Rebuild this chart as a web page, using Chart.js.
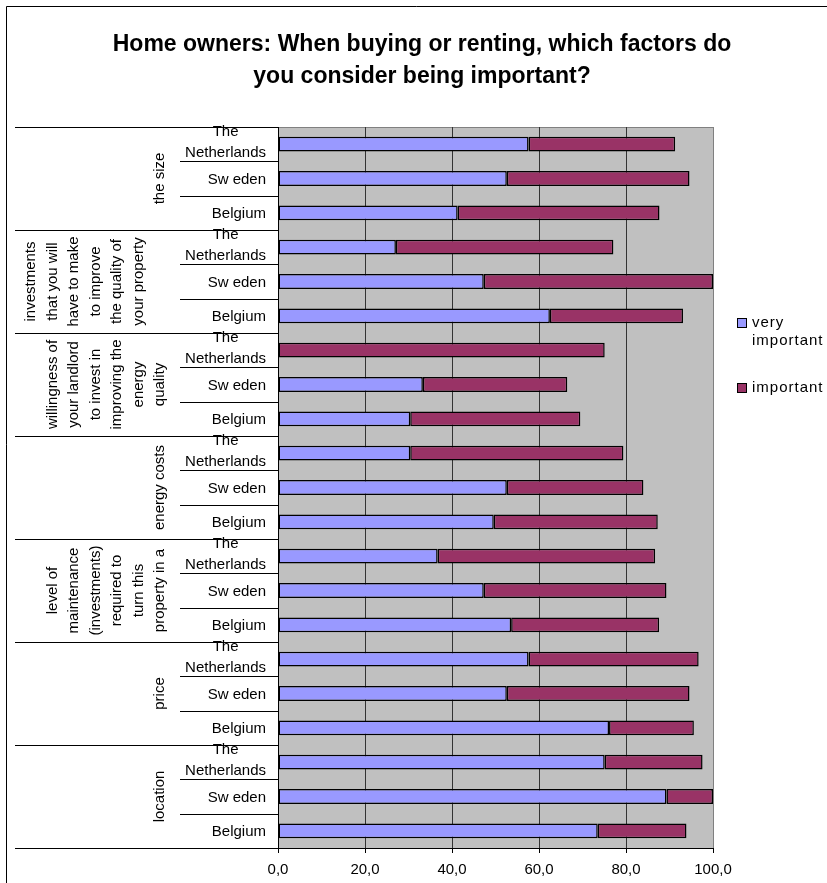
<!DOCTYPE html>
<html>
<head>
<meta charset="utf-8">
<title>Home owners: important factors</title>
<script src="https://cdn.jsdelivr.net/npm/chart.js@4/dist/chart.umd.min.js"></script>
<style>
    html, body { margin: 0; padding: 0; background: #fff; }
    canvas { display: block; }
</style>
</head>
<body>
<canvas id="factorChart" width="827" height="883"></canvas>
<script>
// Factors (top to bottom), each split in three countries
const groups = [
    ['the size'],
    ['investments', 'that you will', 'have to make', 'to improve', 'the quality of', 'your property', ''],
    ['willingness of', 'your landlord', 'to invest in', 'improving the', 'energy', 'quality'],
    ['energy costs'],
    ['level of', 'maintenance', '(investments)', 'required to', 'turn this', 'property in a'],
    ['price'],
    ['location']
];
const countries = [['The', 'Netherlands'], ['Sw eden'], ['Belgium']];

// Percentages per bar, same order as the rows (group by group, country by country)
const veryImportant = [
    57.6, 52.6, 41.3,
    27.1, 47.3, 62.5,
    0.0, 33.3, 30.4,
    30.4, 52.6, 49.6,
    36.7, 47.3, 53.6,
    57.6, 52.6, 76.1,
    75.1, 89.3, 73.5
];
const important = [
    33.7, 42.0, 46.4,
    50.0, 52.7, 30.6,
    75.1, 33.2, 39.1,
    49.0, 31.4, 37.7,
    50.0, 42.0, 34.0,
    39.1, 42.0, 19.5,
    22.5, 10.7, 20.4
];
const xTicks = [0, 20, 40, 60, 80, 100];

const FONT = '"Liberation Sans", Arial, sans-serif';
const BLUE = '#9999FF';
const PLUM = '#993366';

// one category per group/country pair
const rowLabels = [];
groups.forEach(g => {
    countries.forEach(c => rowLabels.push(g[0] + ' / ' + c.join(' ')));
});

/**
 * Draws the frame, the grey plot area, the two-level category labels,
 * the title and the legend around the bars.
 */
const decorations = {
    id: 'decorations',
    beforeDraw(chart) {
        const { ctx, chartArea: a } = chart;
        ctx.save();
        ctx.fillStyle = '#fff';
        ctx.fillRect(0, 0, chart.width, chart.height);
        ctx.strokeStyle = '#000';
        ctx.lineWidth = 1;
        ctx.beginPath();
        ctx.moveTo(6.5, chart.height);
        ctx.lineTo(6.5, 6.5);
        ctx.lineTo(chart.width, 6.5);
        ctx.stroke();
        ctx.fillStyle = '#C0C0C0';
        ctx.fillRect(a.left, a.top, a.right - a.left, a.bottom - a.top);
        ctx.strokeStyle = '#808080';
        ctx.strokeRect(a.left + 0.5, a.top + 0.5, a.right - a.left, a.bottom - a.top);
        ctx.restore();
    },
    afterDraw(chart) {
        const { ctx, chartArea: a } = chart;
        const y = chart.scales.y;
        const rowH = (a.bottom - a.top) / rowLabels.length;
        const edge = i => Math.round(a.top + i * rowH) + 0.5;

        ctx.save();
        ctx.strokeStyle = '#000';
        ctx.lineWidth = 1;

        // value axis line on the left
        ctx.beginPath();
        ctx.moveTo(a.left + 0.5, a.top);
        ctx.lineTo(a.left + 0.5, a.bottom + 5);
        ctx.stroke();

        // separators: long ones between groups, short ones between countries
        ctx.beginPath();
        for (let i = 0; i <= rowLabels.length; i++) {
            const x0 = i % countries.length === 0 ? 15 : 180;
            ctx.moveTo(x0, edge(i));
            ctx.lineTo(a.left, edge(i));
        }
        ctx.stroke();

        ctx.fillStyle = '#000';
        ctx.font = '15px ' + FONT;
        ctx.textBaseline = 'middle';

        // country labels
        rowLabels.forEach((_, i) => {
            const lines = countries[i % countries.length];
            const cy = y.getPixelForValue(i);
            if (lines.length === 1) {
                ctx.textAlign = 'right';
                ctx.fillText(lines[0], 266, cy + 1);
            } else {
                const w = Math.max(...lines.map(l => ctx.measureText(l).width));
                ctx.textAlign = 'center';
                ctx.fillText(lines[0], 266 - w / 2, cy - 12);
                ctx.fillText(lines[1], 266 - w / 2, cy + 9);
            }
        });

        // group labels, rotated, last line next to the country column
        groups.forEach((lines, gi) => {
            const first = gi * countries.length;
            const cy = (y.getPixelForValue(first) + y.getPixelForValue(first + countries.length - 1)) / 2;
            ctx.save();
            ctx.translate(160, cy);
            ctx.rotate(-Math.PI / 2);
            ctx.textAlign = 'center';
            const n = lines.length;
            lines.forEach((line, li) => ctx.fillText(line, 0, (li - (n - 1)) * 21.5));
            ctx.restore();
        });

        // title
        ctx.font = 'bold 23px ' + FONT;
        ctx.textAlign = 'center';
        ctx.fillText('Home owners: When buying or renting, which factors do', 422, 45);
        ctx.fillText('you consider being important?', 422, 77);

        // legend
        ctx.font = '15px ' + FONT;
        ctx.letterSpacing = '1px';
        ctx.textAlign = 'left';
        const legend = [
            { color: BLUE, lines: ['very', 'important'], top: 318 },
            { color: PLUM, lines: ['important'], top: 383 }
        ];
        legend.forEach(item => {
            ctx.fillStyle = item.color;
            ctx.fillRect(737, item.top, 10, 10);
            ctx.strokeRect(737.5, item.top + 0.5, 9, 9);
            ctx.fillStyle = '#000';
            item.lines.forEach((l, k) => ctx.fillText(l, 752, item.top + 5 + k * 18));
        });
        ctx.restore();
    }
};

new Chart(document.getElementById('factorChart'), {
    type: 'bar',
    data: {
        labels: rowLabels,
        datasets: [
            {
                label: 'very important',
                data: veryImportant,
                backgroundColor: BLUE,
                borderColor: '#000',
                borderWidth: 1.5,
                borderSkipped: false
            },
            {
                label: 'important',
                data: important,
                backgroundColor: PLUM,
                borderColor: '#000',
                borderWidth: 1.5,
                borderSkipped: false
            }
        ]
    },
    options: {
        indexAxis: 'y',
        responsive: false,
        animation: false,
        devicePixelRatio: 1,
        layout: { padding: { left: 278, right: 114, top: 127, bottom: 0 } },
        datasets: { bar: { categoryPercentage: 1, barPercentage: 0.43 } },
        plugins: {
            legend: { display: false },
            title: { display: false },
            tooltip: { enabled: false }
        },
        scales: {
            y: { display: false, stacked: true },
            x: {
                stacked: true,
                min: 0,
                max: 100,
                afterBuildTicks: scale => { scale.ticks = xTicks.map(v => ({ value: v })); },
                afterFit: scale => { scale.height = 35; },
                ticks: {
                    color: '#000',
                    padding: 8,
                    maxRotation: 0,
                    font: { size: 15, family: FONT },
                    callback: v => v.toFixed(1).replace('.', ',')
                },
                grid: {
                    color: ctx => ctx.tick && ctx.tick.value === 100 ? '#808080' : '#333',
                    tickColor: '#000',
                    tickLength: 5,
                    lineWidth: 1
                },
                border: { color: '#000', width: 1 }
            }
        }
    },
    plugins: [decorations]
});
</script>
</body>
</html>
